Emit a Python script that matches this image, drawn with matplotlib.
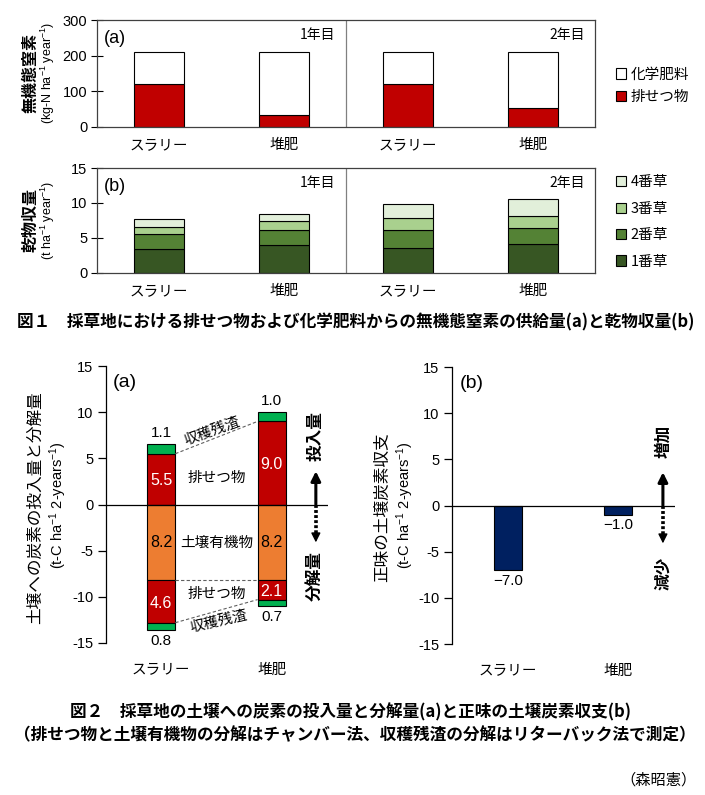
import matplotlib
matplotlib.use('Agg')
import matplotlib.pyplot as plt
from matplotlib.patches import Patch
import numpy as np

plt.rcParams['font.family'] = ['Liberation Sans', 'Noto Sans CJK JP', 'DejaVu Sans']
plt.rcParams['axes.unicode_minus'] = False
plt.rcParams['mathtext.fontset'] = 'custom'
plt.rcParams['mathtext.rm'] = 'Liberation Sans'
plt.rcParams['mathtext.default'] = 'regular'

# ---------------- data ----------------
n_cats = ['スラリー', '堆肥', 'スラリー', '堆肥']
n_years = ['1年目', '2年目']
n_excreta = [120, 33, 120, 52]
n_fert = [90, 177, 90, 158]

y_cut1 = [3.4, 4.0, 3.55, 4.1]
y_cut2 = [2.1, 2.1, 2.55, 2.3]
y_cut3 = [1.1, 1.3, 1.7, 1.8]
y_cut4 = [1.1, 1.0, 2.0, 2.3]
cut_labels = ['1番草', '2番草', '3番草', '4番草']

c_cats = ['スラリー', '堆肥']
in_excreta = [5.5, 9.0]
in_residue = [1.1, 1.0]
out_soil = [8.2, 8.2]
out_excreta = [4.6, 2.1]
out_residue = [0.8, 0.7]
net_balance = [-7.0, -1.0]

# ---------------- styles ----------------
RED = '#C00000'
GREEN_CUTS = ['#375623', '#548235', '#A9D08E', '#E2EFDA']
GREEN = '#00B050'
ORANGE = '#ED7D31'
NAVY = '#002060'
CJK = ['Noto Sans CJK JP', 'DejaVu Sans']

W, H = 705, 795
fig = plt.figure(figsize=(W / 100, H / 100), dpi=100)


def rect(l, t, r, b):
    return [l / W, 1 - b / H, (r - l) / W, (b - t) / H]


def fy(y):
    return 1 - y / H


def style_top(ax, ymax, step):
    ax.set_xlim(0, 4)
    ax.set_ylim(0, ymax)
    ax.set_yticks(np.arange(0, ymax + 1e-9, step))
    ax.tick_params(axis='y', direction='inout', length=8, width=0.8, labelsize=10.5, pad=3)
    ax.tick_params(axis='x', length=0, labelsize=10.5, pad=8)
    for s in ax.spines.values():
        s.set_linewidth(0.9)
        s.set_color('#404040')
    ax.axvline(2, color='#808080', lw=0.9)
    xs = np.arange(4) + 0.5
    ax.set_xticks(xs)
    ax.set_xticklabels(n_cats, fontfamily=CJK)


# ---------- Fig1 (a) ----------
ax1 = fig.add_axes(rect(97, 20, 595, 127))
xs = np.arange(4) + 0.5
ax1.bar(xs, n_excreta, 0.4, color=RED, edgecolor='black', lw=0.8, label='排せつ物')
ax1.bar(xs, n_fert, 0.4, bottom=n_excreta, color='white', edgecolor='black', lw=0.8, label='化学肥料')
style_top(ax1, 300, 100)
ax1.text(0.036, 0.83, '(a)', transform=ax1.transAxes, fontsize=13, ha='center', va='center')
ax1.text(0.478, 0.86, n_years[0], transform=ax1.transAxes, fontsize=10, ha='right', va='center', fontfamily=CJK)
ax1.text(0.98, 0.86, n_years[1], transform=ax1.transAxes, fontsize=10, ha='right', va='center', fontfamily=CJK)
h, l = ax1.get_legend_handles_labels()
fig.legend(h[::-1], l[::-1], loc='center left', bbox_to_anchor=(603 / W, fy(86)), frameon=False,
           handlelength=0.7, handleheight=0.7, handletextpad=0.3, labelspacing=0.6,
           prop={'family': CJK, 'size': 10.5})
fig.text(30 / W, fy(73), '無機態窒素', rotation=90, ha='center', va='center', fontsize=11.5,
         fontweight='bold', fontfamily=CJK)
fig.text(48 / W, fy(73), '(kg-N ha$^{-1}$ year$^{-1}$)', rotation=90, ha='center', va='center', fontsize=9)

# ---------- Fig1 (b) ----------
ax2 = fig.add_axes(rect(97, 168, 595, 273))
bottom = np.zeros(4)
for vals, col, lab in zip([y_cut1, y_cut2, y_cut3, y_cut4], GREEN_CUTS, cut_labels):
    ax2.bar(xs, vals, 0.4, bottom=bottom, color=col, edgecolor='black', lw=0.8, label=lab)
    bottom = bottom + np.array(vals)
style_top(ax2, 15, 5)
ax2.text(0.036, 0.82, '(b)', transform=ax2.transAxes, fontsize=13, ha='center', va='center')
ax2.text(0.478, 0.857, n_years[0], transform=ax2.transAxes, fontsize=10, ha='right', va='center', fontfamily=CJK)
ax2.text(0.98, 0.857, n_years[1], transform=ax2.transAxes, fontsize=10, ha='right', va='center', fontfamily=CJK)
h, l = ax2.get_legend_handles_labels()
fig.legend(h[::-1], l[::-1], loc='center left', bbox_to_anchor=(603 / W, fy(222)), frameon=False,
           handlelength=0.7, handleheight=0.7, handletextpad=0.3, labelspacing=0.85,
           prop={'family': CJK, 'size': 10.5})
fig.text(30 / W, fy(220), '乾物収量', rotation=90, ha='center', va='center', fontsize=11.5,
         fontweight='bold', fontfamily=CJK)
fig.text(48 / W, fy(220), '(t ha$^{-1}$ year$^{-1}$)', rotation=90, ha='center', va='center', fontsize=9)

fig.text(356 / W, fy(322), '図１　採草地における排せつ物および化学肥料からの無機態窒素の供給量(a)と乾物収量(b)',
         ha='center', va='center', fontsize=12, fontweight='bold', fontfamily=CJK)


# ---------- Fig2 common ----------
def style_bottom(ax):
    ax.set_ylim(-15, 15)
    ax.set_yticks(np.arange(-15, 16, 5))
    for s in ['top', 'right', 'bottom']:
        ax.spines[s].set_visible(False)
    ax.spines['left'].set_linewidth(0.9)
    ax.tick_params(axis='y', direction='out', length=6, width=0.9, labelsize=10.5, pad=3)
    ax.tick_params(axis='x', length=0, labelsize=10.5, pad=14)
    ax.axhline(0, color='black', lw=0.9)
    ax.set_xticks([0.5, 1.5])
    ax.set_xticklabels(c_cats, fontfamily=CJK)


def updown_arrow(ax, x, up_text, down_text, up_y, down_y):
    ax.annotate('', xy=(x, 3.6), xytext=(x, 0), arrowprops=dict(arrowstyle='-|>', lw=2.2, color='black',
                                                                    mutation_scale=14, shrinkA=0, shrinkB=0))
    ax.plot([x, x], [0, -3.4], color='black', lw=2.6, ls=(0, (0.8, 0.6)))
    ax.annotate('', xy=(x, -4.1), xytext=(x, -3.3), arrowprops=dict(arrowstyle='-|>', lw=1, color='black',
                                                                      mutation_scale=14, shrinkA=0, shrinkB=0))
    ax.text(x, up_y, up_text, rotation=90, ha='center', va='center', fontsize=12, fontweight='bold',
            fontfamily=CJK)
    ax.text(x, down_y, down_text, rotation=90, ha='center', va='center', fontsize=12, fontweight='bold',
            fontfamily=CJK)


# ---------- Fig2 (a) ----------
ax3 = fig.add_axes(rect(106, 366, 328, 643))
cx = np.array([0.5, 1.5])
bw = 0.255
ie = np.array(in_excreta)
ir = np.array(in_residue)
os_ = np.array(out_soil)
oe = np.array(out_excreta)
orr = np.array(out_residue)
ax3.bar(cx, ie, bw, color=RED, edgecolor='black', lw=0.8)
ax3.bar(cx, ir, bw, bottom=ie, color=GREEN, edgecolor='black', lw=0.8)
ax3.bar(cx, -os_, bw, color=ORANGE, edgecolor='black', lw=0.8)
ax3.bar(cx, -oe, bw, bottom=-os_, color=RED, edgecolor='black', lw=0.8)
ax3.bar(cx, -orr, bw, bottom=-os_ - oe, color=GREEN, edgecolor='black', lw=0.8)
style_bottom(ax3)

for i in range(2):
    ax3.text(cx[i], ie[i] + ir[i] + 0.4, f'{ir[i]:.1f}', ha='center', va='bottom', fontsize=11)
    ax3.text(cx[i], -(os_[i] + oe[i] + orr[i]) - 0.4, f'{orr[i]:.1f}', ha='center', va='top', fontsize=11)
    ax3.text(cx[i], ie[i] / 2 - 0.2, f'{ie[i]:.1f}', ha='center', va='center', fontsize=11.5, color='white')
    ax3.text(cx[i], -os_[i] / 2, f'{os_[i]:.1f}', ha='center', va='center', fontsize=11.5, color='black')
    ax3.text(cx[i], -os_[i] - oe[i] / 2 - 0.2, f'{oe[i]:.1f}', ha='center', va='center', fontsize=11.5,
             color='white')

x0, x1 = cx[0] + bw / 2, cx[1] - bw / 2
ax3.plot([x0, x1], [ie[0], ie[1]], color='#606060', lw=0.8, ls=(0, (3, 2)))
ax3.plot([x0, x1], [-os_[0], -os_[1]], color='#606060', lw=0.8, ls=(0, (3, 2)))
ax3.plot([x0, x1], [-os_[0] - oe[0], -os_[1] - oe[1]], color='#606060', lw=0.8, ls=(0, (3, 2)))
ax3.text(0.96, 8.0, '収穫残渣', rotation=20, ha='center', va='center', fontsize=10.5, fontfamily=CJK)
ax3.text(1.0, 2.9, '排せつ物', ha='center', va='center', fontsize=10.5, fontfamily=CJK)
ax3.text(1.0, -4.1, '土壌有機物', ha='center', va='center', fontsize=10.5, fontfamily=CJK)
ax3.text(1.0, -9.7, '排せつ物', ha='center', va='center', fontsize=10.5, fontfamily=CJK)
ax3.text(1.02, -12.7, '収穫残渣', rotation=13, ha='center', va='center', fontsize=10.5, fontfamily=CJK)
ax3.text(0.17, 13.2, '(a)', ha='center', va='center', fontsize=14)
updown_arrow(ax3, 1.9, '投入量', '分解量', 7.4, -7.8)
ax3.set_xlim(0, 2.01)
fig.text(35 / W, fy(508), '土壌への炭素の投入量と分解量', rotation=90, ha='center', va='center', fontsize=12,
         fontfamily=CJK)
fig.text(58 / W, fy(505), '(t-C ha$^{-1}$ 2-years$^{-1}$)', rotation=90, ha='center', va='center', fontsize=10.5)

# ---------- Fig2 (b) ----------
ax4 = fig.add_axes(rect(452, 367, 675, 644))
nb = np.array(net_balance)
ax4.bar(cx, nb, bw, color=NAVY, edgecolor='black', lw=0.8)
style_bottom(ax4)
for i in range(2):
    ax4.text(cx[i], nb[i] - 0.4, f'\u2212{abs(nb[i]):.1f}', ha='center', va='top', fontsize=11)
ax4.text(0.17, 13.2, '(b)', ha='center', va='center', fontsize=14)
updown_arrow(ax4, 1.91, '増加', '減少', 6.9, -7.3)
ax4.set_xlim(-0.01, 2.02)
fig.text(383 / W, fy(507), '正味の土壌炭素収支', rotation=90, ha='center', va='center', fontsize=12,
         fontfamily=CJK)
fig.text(405 / W, fy(505), '(t-C ha$^{-1}$ 2-years$^{-1}$)', rotation=90, ha='center', va='center', fontsize=10.5)

fig.text(350 / W, fy(712), '図２　採草地の土壌への炭素の投入量と分解量(a)と正味の土壌炭素収支(b)',
         ha='center', va='center', fontsize=12, fontweight='bold', fontfamily=CJK)
fig.text(355 / W, fy(735), '（排せつ物と土壌有機物の分解はチャンバー法、収穫残渣の分解はリターバック法で測定）',
         ha='center', va='center', fontsize=12, fontweight='bold', fontfamily=CJK)
fig.text(697 / W, fy(780), '（森昭憲）', ha='right', va='center', fontsize=11, fontfamily=CJK)

fig.savefig('out.png', dpi=100)
